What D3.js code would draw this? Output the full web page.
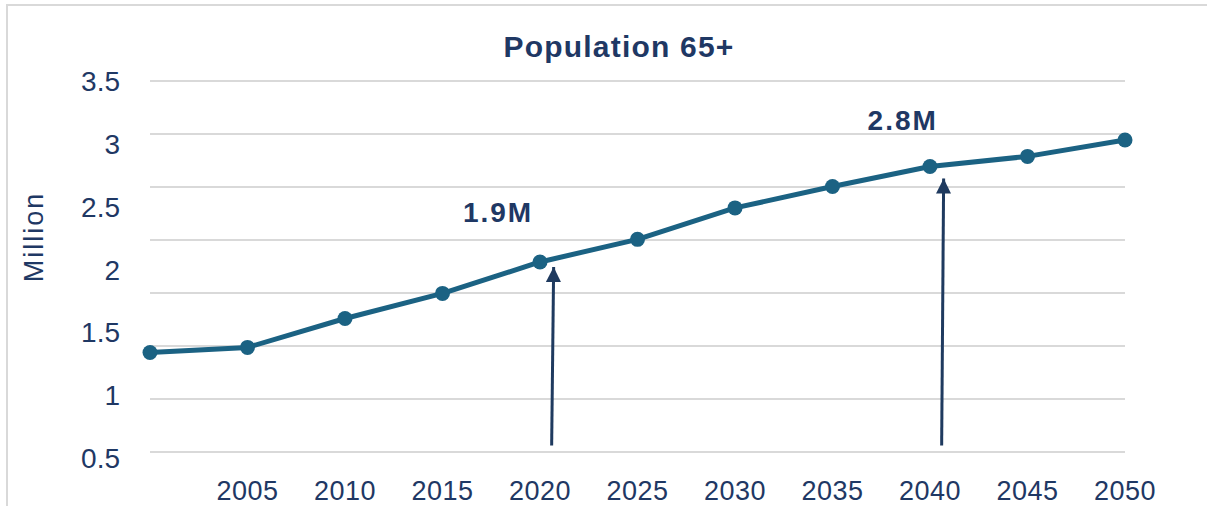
<!DOCTYPE html>
<html>
<head>
<meta charset="utf-8">
<script src="https://cdn.jsdelivr.net/npm/d3@7"></script>
<style>
  body { margin: 0; background: #fff; }
  text { font-family: "Liberation Sans", Arial, sans-serif; }
</style>
</head>
<body>
<script>
// data
const years = [2000, 2005, 2010, 2015, 2020, 2025, 2030, 2035, 2040, 2045, 2050];
const population = [1.34, 1.38, 1.61, 1.81, 2.06, 2.24, 2.49, 2.66, 2.82, 2.90, 3.03];
const yTickLabels = ["0.5", "1", "1.5", "2", "2.5", "3", "3.5"];
const xTickLabels = [2005, 2010, 2015, 2020, 2025, 2030, 2035, 2040, 2045, 2050];
const calloutYears = [2020, 2040];
const calloutLabels = ["1.9M", "2.8M"];

const canvWidth = 1207, canvHeight = 506;
const navy = "#1f3864", lineColor = "#1b6283", arrowColor = "#1f3a5f";

const svg = d3.select("body").append("svg")
    .attr("width", canvWidth)
    .attr("height", canvHeight);

// frame (only top and left edges show)
svg.append("rect")
    .attr("x", 7).attr("y", 5)
    .attr("width", canvWidth).attr("height", canvHeight)
    .attr("fill", "none")
    .attr("stroke", "#d9d9d9")
    .attr("stroke-width", 2);

const xScale = d3.scaleLinear().domain([2000, 2050]).range([150, 1125]);
const yScale = d3.scaleLinear().domain([0.5, 3.5]).range([458, 81]);
// the gridlines in the picture do not line up with the labels
const gridScale = d3.scaleLinear().domain([0, 7]).range([452, 81]);

svg.append("g")
    .selectAll("line")
    .data(gridScale.ticks(7))
    .join("line")
    .attr("x1", xScale(2000)).attr("x2", xScale(2050))
    .attr("y1", d => gridScale(d)).attr("y2", d => gridScale(d))
    .attr("stroke", "#d9d9d9")
    .attr("stroke-width", 2);

// y labels
svg.append("g")
    .selectAll("text")
    .data(yTickLabels)
    .join("text")
    .attr("x", 120)
    .attr("y", d => yScale(+d))
    .attr("dy", "0.36em")
    .attr("text-anchor", "end")
    .attr("font-size", "28px")
    .attr("fill", navy)
    .text(d => d);

// x labels
svg.append("g")
    .selectAll("text")
    .data(xTickLabels)
    .join("text")
    .attr("x", d => xScale(d))
    .attr("y", 500)
    .attr("text-anchor", "middle")
    .attr("font-size", "27px")
    .attr("letter-spacing", "0.5px")
    .attr("fill", navy)
    .text(d => d);

svg.append("text")
    .attr("transform", "translate(43,237) rotate(-90)")
    .attr("text-anchor", "middle")
    .attr("font-size", "27px")
    .attr("letter-spacing", "2px")
    .attr("fill", navy)
    .text("Million");

svg.append("text")
    .attr("x", 619).attr("y", 57)
    .attr("text-anchor", "middle")
    .attr("font-family", "Inter, sans-serif")
    .attr("font-weight", "bold")
    .attr("font-size", "30px")
    .attr("letter-spacing", "1.2px")
    .attr("fill", navy)
    .text("Population 65+");

const data = years.map((y, i) => ({year: y, value: population[i]}));

const line = d3.line()
    .x(d => xScale(d.year))
    .y(d => yScale(d.value));

svg.append("path")
    .datum(data)
    .attr("fill", "none")
    .attr("stroke", lineColor)
    .attr("stroke-width", 5)
    .attr("stroke-linejoin", "round")
    .attr("d", line);

svg.append("g")
    .selectAll("circle")
    .data(data)
    .join("circle")
    .attr("cx", d => xScale(d.year))
    .attr("cy", d => yScale(d.value))
    .attr("r", 7.5)
    .attr("fill", lineColor);

// arrows and callouts
svg.append("defs").append("marker")
    .attr("id", "head")
    .attr("viewBox", "0 0 10 10")
    .attr("refX", 10).attr("refY", 5)
    .attr("markerWidth", 5.3).attr("markerHeight", 5)
    .attr("markerUnits", "strokeWidth")
    .attr("orient", "auto")
    .append("path")
    .attr("d", "M0,0 L10,5 L0,10 Z")
    .attr("fill", arrowColor);

const callouts = calloutYears.map((y, i) => ({
    year: y,
    value: population[years.indexOf(y)],
    label: calloutLabels[i]
}));

svg.append("g")
    .selectAll("line")
    .data(callouts)
    .join("line")
    .attr("x1", d => xScale(d.year + 0.7) - 2)
    .attr("y1", yScale(0.6))
    .attr("x2", d => xScale(d.year + 0.7))
    .attr("y2", d => yScale(d.value) + (d.year === 2040 ? 12 : 5))
    .attr("stroke", arrowColor)
    .attr("stroke-width", 3)
    .attr("marker-end", "url(#head)");

svg.append("g")
    .selectAll("text")
    .data(callouts)
    .join("text")
    .attr("x", d => xScale(d.year - (d.year === 2040 ? 1.4 : 2.15)))
    .attr("y", d => yScale(d.value) - (d.year === 2040 ? 36 : 40))
    .attr("text-anchor", "middle")
    .attr("font-family", "Inter, sans-serif")
    .attr("font-weight", "bold")
    .attr("font-size", "28px")
    .attr("letter-spacing", "2px")
    .attr("fill", navy)
    .text(d => d.label);
</script>
</body>
</html>
